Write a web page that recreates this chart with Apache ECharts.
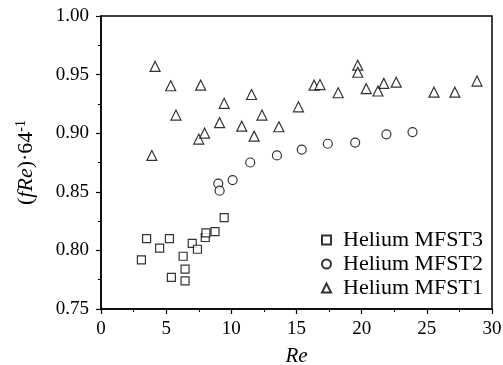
<!DOCTYPE html>
<html><head><meta charset="utf-8">
<script src="https://cdn.jsdelivr.net/npm/echarts@6/dist/echarts.min.js"></script>
<style>html,body{margin:0;padding:0;background:#fff}#c{width:503px;height:365px}</style>
</head><body><div id="c"></div>
<script>
const seriesNames = ['Helium MFST3', 'Helium MFST2', 'Helium MFST1'];
const mfst3Re = [3.1, 3.5, 4.5, 5.25, 5.4, 6.3, 6.45, 6.45, 7.0, 7.4, 8.0, 8.05, 8.75, 9.45];
const mfst3Y  = [0.792, 0.810, 0.802, 0.810, 0.777, 0.795, 0.784, 0.774, 0.806, 0.801, 0.811, 0.815, 0.816, 0.828];
const mfst2Re = [9.0, 9.1, 10.1, 11.45, 13.5, 15.4, 17.4, 19.5, 21.9, 23.9];
const mfst2Y  = [0.857, 0.851, 0.860, 0.875, 0.881, 0.886, 0.891, 0.892, 0.899, 0.901];
const mfst1Re = [3.9, 4.15, 5.35, 5.75, 7.5, 7.65, 7.95, 9.1, 9.45, 10.8, 11.55, 11.75, 12.35, 13.65, 15.15, 16.35, 16.8, 18.2, 19.7, 19.7, 20.35, 21.25, 21.7, 22.65, 25.55, 27.15, 28.85];
const mfst1Y  = [0.881, 0.957, 0.9405, 0.9155, 0.895, 0.941, 0.900, 0.909, 0.9255, 0.906, 0.933, 0.8975, 0.9155, 0.9055, 0.9225, 0.941, 0.9415, 0.9345, 0.958, 0.952, 0.938, 0.936, 0.9425, 0.9435, 0.935, 0.935, 0.9445];
const xTicks = [0, 5, 10, 15, 20, 25, 30];
const yTicks = [0.75, 0.80, 0.85, 0.90, 0.95, 1.00];

const zip = (a, b) => a.map((v, i) => [v, b[i]]);
const font = 'Liberation Serif, Times New Roman, serif';
const mk = (name, xs, ys, symbol, size) => ({
  name, type: 'scatter', data: zip(xs, ys), symbol, symbolSize: size,
  itemStyle: { color: '#fff', borderColor: '#000', borderWidth: 1.2 }
});
const chart = echarts.init(document.getElementById('c'), null, { renderer: 'canvas' });
chart.setOption({
  animation: false,
  backgroundColor: '#fff',
  grid: { left: 101, right: 11, top: 16, bottom: 56, outerBoundsMode: 'none', containLabel: false, show: true, borderColor: '#000', borderWidth: 1.5, backgroundColor: 'transparent' },
  legend: {
    orient: 'vertical', left: 316, top: 224, itemGap: 2, itemWidth: 9, itemHeight: 9,
    data: seriesNames,
    textStyle: { fontFamily: font, fontSize: 22, color: '#000', padding: [0, 0, 0, 7] }
  },
  xAxis: {
    type: 'value', min: xTicks[0], max: xTicks[xTicks.length - 1], interval: 5,
    name: 'Re', nameLocation: 'middle', nameGap: 37,
    nameTextStyle: { fontFamily: font, fontSize: 21, fontStyle: 'italic', color: '#000' },
    axisLine: { lineStyle: { color: '#000', width: 1.5 } },
    axisTick: { inside: false, length: 5, lineStyle: { color: '#000', width: 1.2 } },
    minorTick: { show: true, splitNumber: 2, length: 3, lineStyle: { color: '#000' } },
    axisLabel: { fontFamily: font, fontSize: 19, color: '#000', margin: 11 },
    splitLine: { show: false }
  },
  yAxis: {
    type: 'value', min: yTicks[0], max: yTicks[yTicks.length - 1], interval: 0.05,
    name: '{n|(}{i|fRe}{n|)·64}{s|-1}', nameLocation: 'middle', nameGap: 62, nameRotate: 90,
    nameTextStyle: {
      fontFamily: font, fontSize: 22, color: '#000',
      rich: {
        n: { fontFamily: font, fontSize: 22, color: '#000' },
        i: { fontFamily: font, fontSize: 22, fontStyle: 'italic', color: '#000' },
        s: { fontFamily: font, fontSize: 14, color: '#000', padding: [0, 0, 11, 0] }
      }
    },
    axisLine: { lineStyle: { color: '#000', width: 1.5 } },
    axisTick: { inside: false, length: 5, lineStyle: { color: '#000', width: 1.2 } },
    minorTick: { show: true, splitNumber: 2, length: 3, lineStyle: { color: '#000' } },
    axisLabel: { fontFamily: font, fontSize: 19, color: '#000', margin: 12, formatter: v => v.toFixed(2) },
    splitLine: { show: false }
  },
  series: [
    mk(seriesNames[0], mfst3Re, mfst3Y, 'rect', 8),
    mk(seriesNames[1], mfst2Re, mfst2Y, 'circle', 9),
    mk(seriesNames[2], mfst1Re, mfst1Y, 'triangle', 10)
  ]
});
</script></body></html>
